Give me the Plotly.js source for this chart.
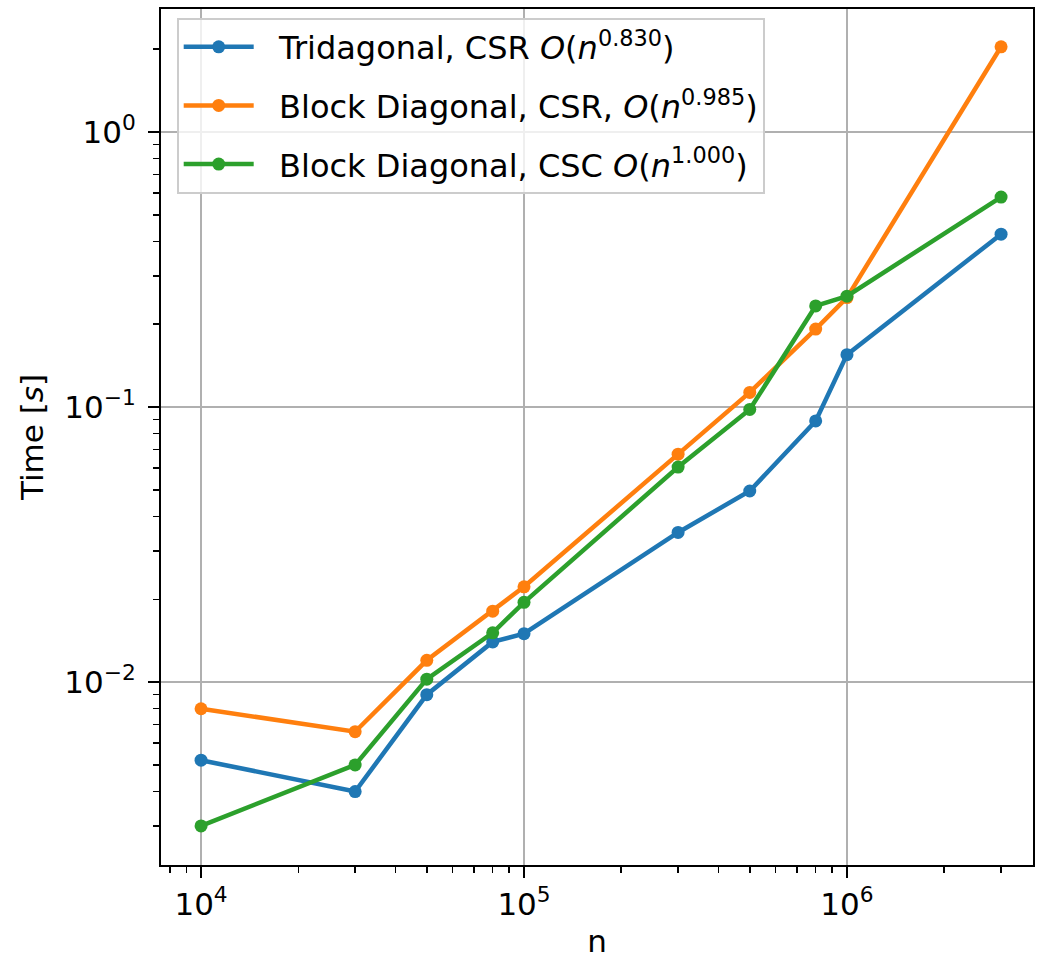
<!DOCTYPE html>
<html>
<head>
<meta charset="utf-8">
<script src="https://cdn.plot.ly/plotly-3.0.1.min.js"></script>
<style>html,body{margin:0;padding:0;background:#fff;}#chart{width:1048px;height:959px;}</style>
</head>
<body>
<div id="chart"></div>
<script>
// Data
const nValues = [1e4, 3e4, 5e4, 8e4, 1e5, 3e5, 5e5, 8e5, 1e6, 3e6];
const triCSR = [0.0052, 0.0040, 0.0090, 0.0140, 0.0150, 0.0350, 0.0495, 0.089, 0.155, 0.425];
const blockCSR = [0.0080, 0.0066, 0.0120, 0.0181, 0.0222, 0.0674, 0.113, 0.192, 0.250, 2.04];
const blockCSC = [0.0030, 0.0050, 0.01025, 0.0151, 0.0195, 0.0605, 0.098, 0.233, 0.253, 0.58];
const seriesNames = [
  "Tridagonal, CSR <i>O</i>(<i>n</i><sup>0.830</sup>)",
  "Block Diagonal, CSR, <i>O</i>(<i>n</i><sup>0.985</sup>)",
  "Block Diagonal, CSC <i>O</i>(<i>n</i><sup>1.000</sup>)"
];
const seriesColors = ["#1f77b4", "#ff7f0e", "#2ca02c"];
const xTickVals = [1e4, 1e5, 1e6];
const xTickText = ["10<sup>4</sup>", "10<sup>5</sup>", "10<sup>6</sup>"];
const yTickVals = [1e-2, 1e-1, 1];
const yTickText = ["10<sup>−2</sup>", "10<sup>−1</sup>", "10<sup>0</sup>"];

const FONT = "DejaVu Sans";
const FS = 31;
const LFS = 32;
const PAD = "\u00a0\u00a0";
const series = [triCSR, blockCSR, blockCSC];
const traces = series.map((ys, i) => ({
  x: nValues, y: ys, type: "scatter", mode: "lines+markers", name: PAD + seriesNames[i],
  legendgroup: "g" + i,
  line: {color: seriesColors[i], width: 4.5},
  marker: {color: seriesColors[i], size: 13}
}));

function minorVals(lo, hi) {
  const out = [];
  for (let e = lo; e <= hi; e++) for (let k = 2; k <= 9; k++) out.push(k * Math.pow(10, e));
  return out;
}

const axisCommon = {
  type: "log",
  showline: true, linecolor: "black", linewidth: 2, mirror: true,
  ticks: "outside", ticklen: 11, tickwidth: 2, tickcolor: "black",
  showgrid: true, gridcolor: "#b0b0b0", gridwidth: 2,
  zeroline: false,
  tickfont: {family: FONT, size: FS, color: "black"},
  tickmode: "array"
};

const layout = {
  width: 1048, height: 959,
  margin: {l: 161, r: 15, t: 9, b: 94},
  paper_bgcolor: "white", plot_bgcolor: "white",
  showlegend: true,
  font: {family: FONT, color: "black"},
  xaxis: Object.assign({}, axisCommon, {
    range: [3.876, 6.576],
    tickvals: xTickVals, ticktext: xTickText,
    minor: {tickmode: "array", tickvals: minorVals(3, 6), ticks: "outside", ticklen: 6, tickwidth: 1.5, tickcolor: "black", showgrid: false},
    title: {text: "n", font: {family: FONT, size: FS, color: "black"}, standoff: 14}
  }),
  yaxis: Object.assign({}, axisCommon, {
    range: [-2.665, 0.447],
    tickvals: yTickVals, ticktext: yTickText,
    ticklabelstandoff: 6,
    minor: {tickmode: "array", tickvals: minorVals(-3, 0), ticks: "outside", ticklen: 6, tickwidth: 1.5, tickcolor: "black", showgrid: false},
    title: {text: "Time [<i>s</i>]", font: {family: FONT, size: FS, color: "black"}, standoff: 12}
  }),
  legend: {
    x: 0.018, y: 0.99, xanchor: "left", yanchor: "top",
    bgcolor: "rgba(255,255,255,0.8)", bordercolor: "#cccccc", borderwidth: 2,
    font: {family: FONT, size: LFS, color: "black"},
    itemwidth: 70, traceorder: "grouped", tracegroupgap: 14
  }
};

Plotly.newPlot("chart", traces, layout, {staticPlot: true, displayModeBar: false});
</script>
</body>
</html>
